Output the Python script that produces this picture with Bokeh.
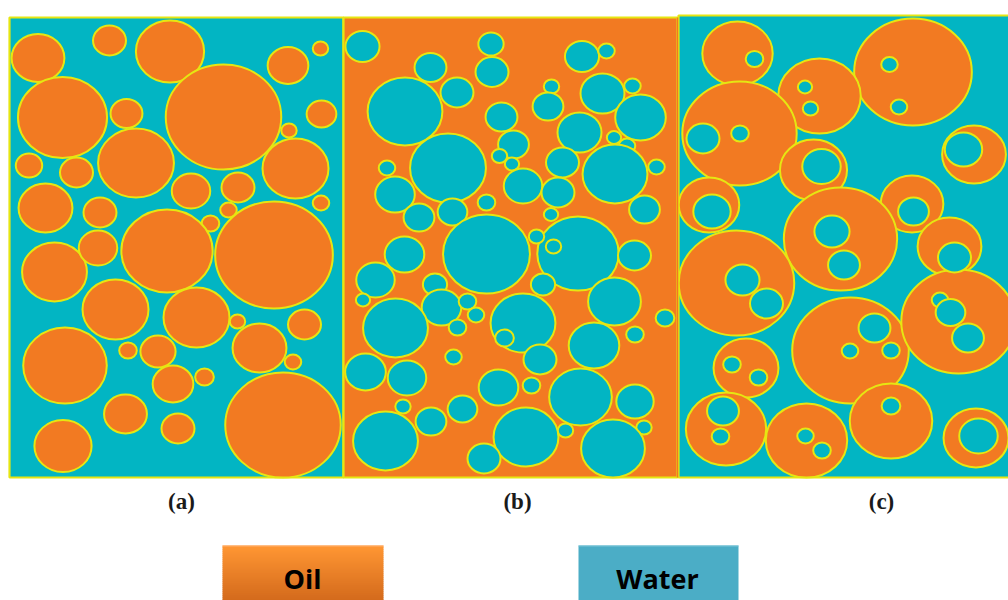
from bokeh.plotting import figure
from bokeh.models import Range1d, ColumnDataSource
from bokeh.embed import file_html
from bokeh.resources import INLINE
from bokeh.core.properties import value

# ---- (a) oil droplets dispersed in water: centre x, centre y, radius (px) ----
a_x = [37.5, 109, 169.5, 320, 287.5, 62, 126, 223, 321, 288.5, 135.5, 28.5, 76, 295,
       190.5, 237.5, 320.5, 228, 45, 99.5, 210, 166.5, 273.5, 54, 97.5, 115, 196, 237,
       304, 259, 292.5, 64.5, 127.5, 157.5, 172.5, 204, 282.5, 125, 177.5, 62.5]
a_y = [57.5, 40, 51, 48, 65, 117, 113, 116.5, 113.5, 130, 162.5, 165, 172, 168,
       190.5, 187, 202.5, 209.5, 207.5, 212, 223, 250.5, 254.5, 271.5, 247.5, 309, 317, 321,
       324, 347.5, 361.5, 365, 350, 351, 383.5, 376.5, 424.5, 413.5, 428, 445.5]
a_r = [24, 15, 31, 7, 18.5, 40.5, 14.5, 52.5, 13.5, 7, 34.5, 12, 15, 30,
       17.5, 15, 7.5, 7.5, 24.5, 15, 8, 41.5, 53.5, 29.5, 17.5, 30, 30, 7,
       15, 24.5, 7.5, 38, 8, 16, 18.5, 8.5, 52.5, 19.5, 15, 26]

# ---- (b) water droplets dispersed in oil ----
b_x = [362, 490.5, 491.5, 430, 581.5, 606, 404.5, 456.5, 551, 547.5, 602, 632, 640, 501,
       579, 513, 613.5, 626.5, 499, 511.5, 386.5, 447.5, 562, 614.5, 656, 394.5, 522.5, 557.5,
       486, 418.5, 452, 644, 550.5, 486, 577.5, 536, 553, 404, 634, 375, 362.5, 434.5,
       441, 467, 475.5, 457, 395, 542.5, 614, 522.5, 504, 664.5, 634.5, 593.5, 453, 539.5,
       365, 406.5, 498, 531, 580, 634.5, 402.5, 462, 430.5, 385, 525.5, 565, 643.5, 612.5,
       483.5]
b_y = [46, 43.5, 71.5, 67, 56, 50.5, 111, 92, 86, 106, 93, 85.5, 117, 116.5,
       132, 144, 137, 145.5, 155.5, 163.5, 167.5, 167.5, 162, 173.5, 166.5, 194, 185.5, 192,
       202, 217, 211.5, 209, 214, 253.5, 253, 236, 246, 254, 255, 279.5, 299.5, 284,
       307, 301, 314.5, 327, 327.5, 284, 301, 322.5, 337.5, 317.5, 334, 345, 356.5, 359,
       371.5, 377.5, 387, 385, 396.5, 401, 406, 408.5, 421, 440.5, 436.5, 430, 427, 448,
       458]
b_r = [15.5, 11.5, 15, 14.5, 15.5, 7.5, 34, 15, 7, 14, 20, 7.5, 23, 14.5,
       20, 14, 6.5, 7.5, 7, 6.5, 7.5, 34.5, 15, 29.5, 7.5, 18, 17.5, 15,
       8, 14, 13.5, 14, 6.5, 39.5, 37, 7, 7, 18, 15, 17.5, 6.5, 11,
       18, 8, 7.5, 8, 29.5, 11, 24, 29.5, 8.5, 8.5, 8, 23, 7.5, 15,
       18.5, 17.5, 18, 8, 28.5, 17, 7, 13.5, 14, 29.5, 29.5, 7, 7, 29,
       15]

# ---- (c) oil drops holding water inclusions ----
c_x = [737, 912.5, 819, 739, 813, 973.5, 708.5, 911.5, 840, 949, 736, 850, 958, 745.5,
       725.5, 806, 890.5, 975.5]
c_y = [53, 71.5, 95.5, 133, 169.5, 154, 204.5, 203.5, 238.5, 246, 282.5, 350, 321, 367.5,
       428.5, 440, 420.5, 437.5]
c_r = [32, 53.5, 37.5, 52, 30.5, 29, 27.5, 28.5, 51.5, 29, 52.5, 53, 52, 29.5,
       36.5, 37, 37.5, 29.5]

# water inclusions inside the (c) drops
w_x = [754, 889, 898.5, 804.5, 810, 702.5, 739.5, 821, 963, 711.5, 913, 831.5, 843.5, 954,
       742, 766, 874, 849.5, 890.5, 939.5, 950, 967.5, 731.5, 758, 722.5, 720, 805, 821.5,
       890.5, 978]
w_y = [58.5, 64, 106.5, 86.5, 108, 138, 133, 166, 149, 211, 211, 231, 264.5, 257,
       279.5, 303, 327.5, 350.5, 350, 299.5, 312, 337.5, 364, 377, 410.5, 436, 435.5, 450,
       405.5, 435.5]
w_r = [8, 7.5, 7.5, 6.5, 7, 15, 8, 17.5, 17, 17, 14, 16, 14.5, 15,
       15.5, 15, 14.5, 7.5, 8, 7.5, 13.5, 14.5, 8, 8, 14.5, 8, 7.5, 8,
       8.5, 17.5]

panel_labels = ["(a)", "(b)", "(c)"]
legend_labels = ["Oil", "Water"]

OIL = "#F27A22"
WATER = "#02B5C3"
EDGE = "#E6E612"
SX = 1.1  # the panels are drawn slightly wider than tall

W, H = 1008, 600
p = figure(width=W, height=H, x_range=Range1d(0, W), y_range=Range1d(H, 0),
           output_backend="svg", toolbar_location=None, min_border=0)
p.axis.visible = False
p.grid.visible = False
p.outline_line_color = None
p.background_fill_color = "white"
p.border_fill_color = "white"

# panel frames
p.quad(left=[9, 343, 678], right=[343, 677, 1012], top=[17, 17, 15], bottom=[477, 477, 477],
       fill_color=[WATER, OIL, WATER], line_color=EDGE, line_width=2.2)


def drops(xs, ys, rs, fill):
    src = ColumnDataSource(dict(x=xs, y=ys, w=[2 * r * SX for r in rs], h=[2 * r for r in rs]))
    p.ellipse(x="x", y="y", width="w", height="h", source=src,
              fill_color=fill, line_color=EDGE, line_width=2)


drops(a_x, a_y, a_r, OIL)
drops(b_x, b_y, b_r, WATER)
drops(c_x, c_y, c_r, OIL)
drops(w_x, w_y, w_r, WATER)

# thin orange seam at the right edge of panel (b)
p.segment(x0=[677], y0=[17], x1=[677], y1=[477], line_color=OIL, line_width=1.5)

# panel captions
p.text(x=[181, 517, 881], y=[501, 501, 501], text=panel_labels,
       text_font=value("Liberation Serif"), text_font_style="bold",
       text_font_size="23px", text_align="center", text_baseline="middle",
       text_color="#1a1a1a")

# legend swatches: oil with a vertical shading, water flat
top, bot = 545, 601
n = 28
c0 = (0xFF, 0x96, 0x33)
c1 = (0xD3, 0x6A, 0x1C)
lefts, rights, tops, bots, cols = [], [], [], [], []
for i in range(n):
    t = i / (n - 1)
    col = tuple(int(round(c0[k] + (c1[k] - c0[k]) * t)) for k in range(3))
    lefts.append(222)
    rights.append(383)
    tops.append(top + (bot - top) * i / n)
    bots.append(top + (bot - top) * (i + 1) / n + 0.5)
    cols.append("#%02x%02x%02x" % col)
p.quad(left=lefts, right=rights, top=tops, bottom=bots, fill_color=cols, line_color=None)
p.segment(x0=[222], y0=[545.5], x1=[383], y1=[545.5], line_color="#FFB070", line_width=1)

p.quad(left=[578], right=[738], top=[545], bottom=[601], fill_color="#4BADC6", line_color=None)
p.segment(x0=[578], y0=[545.5], x1=[738], y1=[545.5], line_color="#7CC6D8", line_width=1)

p.text(x=[302, 657], y=[578, 578], text=legend_labels,
       text_font=value("Open Sans"), text_font_style="bold",
       text_font_size="27px", text_align="center", text_baseline="middle",
       text_color="black")

open("out.html", "w").write(file_html(p, INLINE))
